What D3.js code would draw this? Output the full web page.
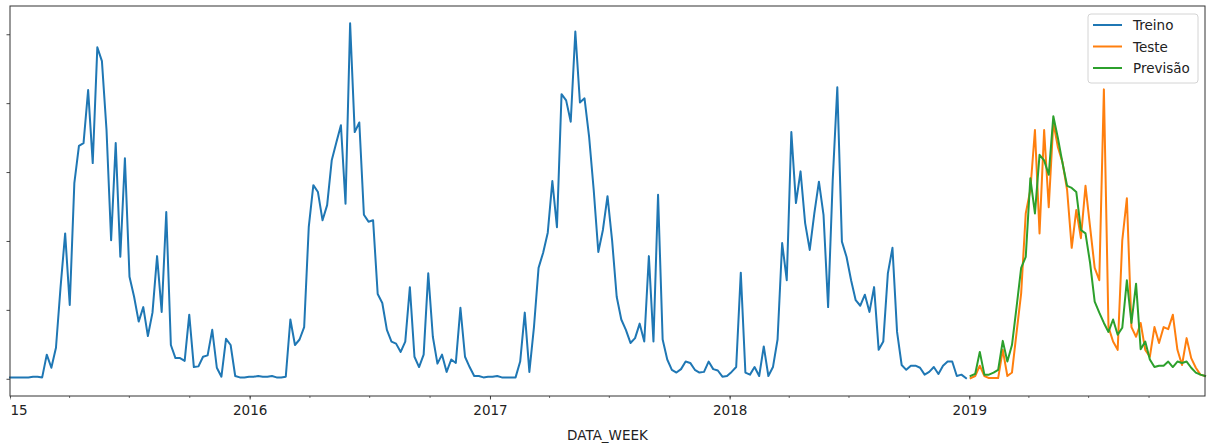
<!DOCTYPE html>
<html>
<head>
<meta charset="utf-8">
<script src="https://cdn.jsdelivr.net/npm/d3@7"></script>
<style>
  body { margin: 0; background: #fff; }
  svg { font-family: "DejaVu Sans", sans-serif; }
</style>
</head>
<body>
<svg id="chart" width="1207" height="444"></svg>
<script>
// weekly series, first week starts 2015-01-01
const startDate = new Date(Date.UTC(2015, 0, 1));

const treino = [
  2, 2, 2, 2, 2, 3, 3, 2, 35, 16, 45, 133, 211, 107, 284, 338, 342, 419, 313, 481,
  461, 361, 201, 342, 177, 320, 148, 119, 83, 104, 62, 96, 178, 97, 242, 49, 30, 30, 26, 93,
  17, 18, 32, 34, 71, 16, 3, 58, 49, 4, 2, 2,
  3, 3, 4, 3, 3, 4, 2, 2, 3, 86, 49, 57, 75, 220, 281, 271, 230, 252, 317, 343,
  368, 254, 516, 358, 372, 238, 228, 230, 123, 110, 71, 54, 51, 39, 54, 133, 32, 17, 35, 153,
  61, 22, 35, 10, 28, 23, 103, 32, 17, 4, 4, 2,
  3, 3, 4, 2, 2, 2, 2, 25, 96, 10, 75, 161, 183, 212, 287, 220, 413, 404, 373, 504,
  401, 407, 351, 274, 184, 216, 265, 201, 119, 86, 71, 52, 59, 80, 54, 178, 54, 267, 57, 28,
  13, 9, 14, 25, 23, 13, 9, 10, 25, 14, 12, 3,
  4, 10, 17, 154, 9, 6, 17, 4, 47, 4, 17, 57, 197, 143, 358, 255, 301, 226, 187, 240,
  286, 238, 104, 288, 423, 199, 177, 143, 114, 106, 122, 97, 133, 42, 54, 153, 190, 68, 20, 13,
  19, 19, 16, 6, 10, 17, 7, 19, 25, 25, 4, 6, 1
];

const teste = [
  1, 4, 19, 4, 1, 1, 1, 42, 4, 9, 67, 124, 240, 274, 361, 211, 361, 249, 372, 336,
  314, 274, 190, 245, 204, 280, 220, 161, 143, 420, 75, 54, 42, 201, 262, 75, 61, 81, 42, 32,
  75, 52, 75, 72, 93, 42, 20, 59, 30, 16, 6, 4
];

const previsao = [
  4, 7, 39, 6, 6, 9, 13, 55, 25, 49, 104, 161, 177, 291, 240, 325, 317, 296, 381, 349,
  313, 280, 277, 271, 216, 211, 168, 112, 96, 81, 68, 86, 64, 74, 143, 81, 138, 43, 54, 28,
  17, 19, 19, 25, 17, 25, 23, 25, 16, 9, 6, 4
];

const seriesNames = ['Treino', 'Teste', 'Previsão'];
const seriesColors = ['#1f77b4', '#ff7f0e', '#2ca02c'];
const yTickValues = [0, 100, 200, 300, 400, 500];
const xLabel = 'DATA_WEEK';

const weekDate = i => d3.utcDay.offset(startDate, 7 * i);
const trainData = treino.map((v, i) => ({ date: weekDate(i), value: v }));
const testData = teste.map((v, i) => ({ date: weekDate(treino.length + i), value: v }));
const predData = previsao.map((v, i) => ({ date: weekDate(treino.length + i), value: v }));

const margin = { top: 6, right: 2, bottom: 48, left: 10 };
const width = 1207, height = 444;
const svg = d3.select('#chart');

const x = d3.scaleUtc()
  .domain([trainData[0].date, testData[testData.length - 1].date])
  .range([margin.left, width - margin.right]);
const y = d3.scaleLinear()
  .domain([-25, 541])
  .range([height - margin.bottom, margin.top]);

// clip for the x tick labels (the left part of the figure is cut off)
svg.append('clipPath').attr('id', 'labelclip')
  .append('rect').attr('x', 10.5).attr('y', 0).attr('width', width).attr('height', height);

// y axis ticks, no labels visible
svg.append('g')
  .attr('transform', `translate(${margin.left},0)`)
  .call(d3.axisLeft(y).tickValues(yTickValues).tickSize(3.5).tickFormat(''))
  .call(g => g.select('.domain').remove())
  .call(g => g.selectAll('line').attr('stroke', '#333').attr('stroke-width', 0.9));

// x axis minor ticks (quarters)
const x0 = height - margin.bottom;
svg.append('g')
  .attr('transform', `translate(0,${x0})`)
  .call(d3.axisBottom(x).ticks(d3.utcMonth.every(3)).tickSize(2).tickFormat(''))
  .call(g => g.select('.domain').remove())
  .call(g => g.selectAll('line').attr('stroke', '#333').attr('stroke-width', 0.7));

// x axis major ticks (years)
svg.append('g')
  .attr('transform', `translate(0,${x0})`)
  .call(d3.axisBottom(x).ticks(d3.utcYear.every(1)).tickSize(3.5).tickPadding(6)
    .tickFormat(d3.utcFormat('%Y')))
  .call(g => g.select('.domain').remove())
  .call(g => g.selectAll('line').attr('stroke', '#333').attr('stroke-width', 0.9))
  .call(g => g.selectAll('text')
    .attr('fill', '#222')
    .style('font-size', '13.5px')
    .style('font-family', '"DejaVu Sans", sans-serif'))
  .attr('clip-path', 'url(#labelclip)');

svg.append('text')
  .attr('x', (margin.left + width - margin.right) / 2)
  .attr('y', 440)
  .attr('text-anchor', 'middle')
  .attr('fill', '#222')
  .style('font-size', '13.5px')
  .text(xLabel);

// lines
const line = d3.line().x(d => x(d.date)).y(d => y(d.value));
[trainData, testData, predData].forEach((data, i) => {
  svg.append('path')
    .datum(data)
    .attr('fill', 'none')
    .attr('stroke', seriesColors[i])
    .attr('stroke-width', 2)
    .attr('stroke-linejoin', 'round')
    .attr('stroke-linecap', 'square')
    .attr('d', line);
});

// frame
svg.append('rect')
  .attr('x', margin.left)
  .attr('y', margin.top)
  .attr('width', width - margin.right - margin.left)
  .attr('height', height - margin.bottom - margin.top)
  .attr('fill', 'none')
  .attr('stroke', '#333')
  .attr('stroke-width', 1);

// legend
const legend = svg.append('g').attr('transform', 'translate(1088,14)');
legend.append('rect')
  .attr('width', 110).attr('height', 69).attr('rx', 3)
  .attr('fill', 'white').attr('fill-opacity', 0.8)
  .attr('stroke', '#d4d4d4').attr('stroke-width', 1);
seriesNames.forEach((name, i) => {
  const row = legend.append('g').attr('transform', `translate(0,${11 + i * 21.5})`);
  row.append('line')
    .attr('x1', 5).attr('x2', 34)
    .attr('stroke', seriesColors[i]).attr('stroke-width', 2);
  row.append('text')
    .attr('x', 45).attr('y', 5)
    .attr('fill', '#222')
    .style('font-size', '13.5px')
    .text(name);
});
</script>
</body>
</html>
